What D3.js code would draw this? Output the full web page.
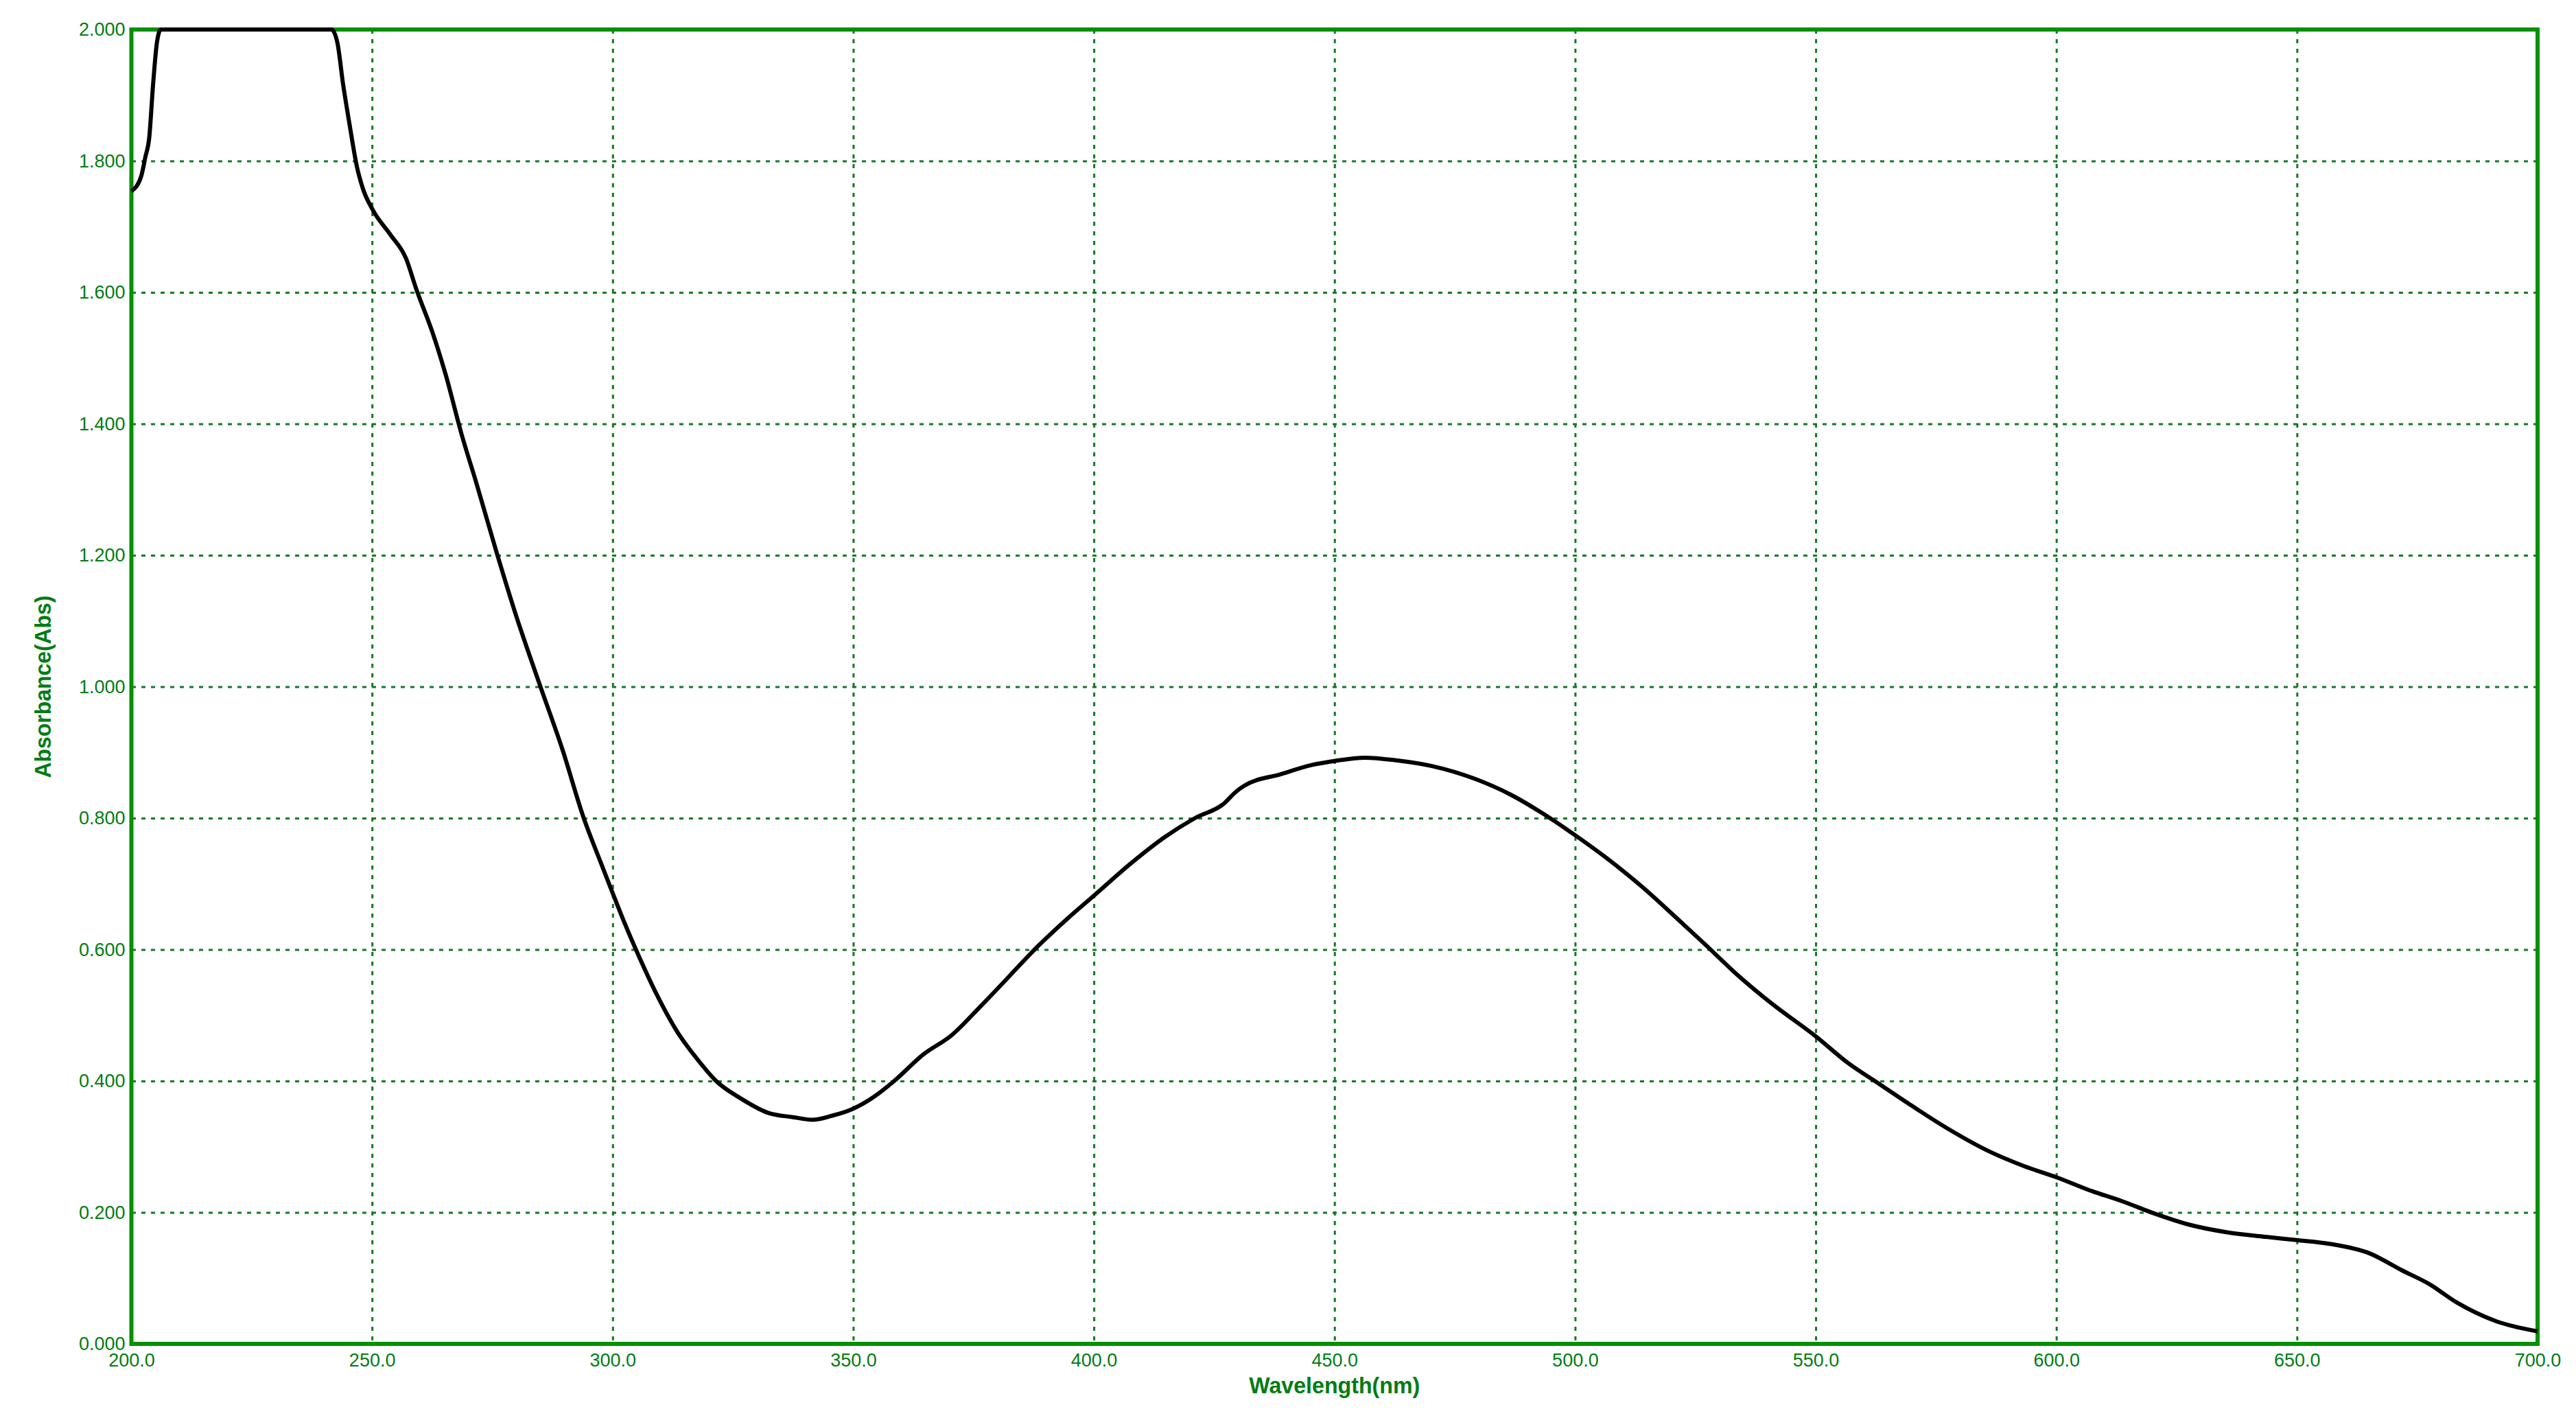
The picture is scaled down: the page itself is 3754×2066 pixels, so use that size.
<!DOCTYPE html>
<html>
<head>
<meta charset="utf-8">
<script src="https://cdnjs.cloudflare.com/ajax/libs/d3/7.8.5/d3.min.js"></script>
<style>
  html, body { margin: 0; padding: 0; background: #fff; }
  svg { display: block; }
</style>
</head>
<body>
<div id="chart"></div>
<script>
// wavelength (nm) and absorbance
var wavelength = [200, 202, 202.9, 203.7, 204.5, 205.3, 206.1, 241.6, 242.8, 244.0, 245.3, 246.9, 248.1, 250.2, 253.8, 257.1, 259.1, 262.8, 265.3, 268.5, 271.8, 275.9, 279.9, 285, 289.5, 294, 297.5, 300, 302.5, 305.5, 309, 313.5, 317.5, 321.5, 326.5, 332.5, 337.5, 341.5, 345.5, 349.7, 354.5, 358.5, 364.5, 370.5, 376.5, 382.5, 387, 394.5, 400, 408, 414.7, 421, 427, 429.5, 431.2, 438.9, 445.4, 450, 456.3, 462.8, 470.4, 479.1, 486.8, 493.3, 500, 506.4, 514, 520.5, 527, 533.5, 541, 550, 556.6, 563.5, 569.2, 577.1, 586.3, 593.1, 600.2, 606.8, 613.7, 620.5, 627.3, 635.3, 643.3, 649.9, 657, 665, 671.8, 677.5, 683.2, 691.2, 700];
var absorbance = [1.754, 1.776, 1.806, 1.835, 1.916, 1.98, 2.0, 2.0, 1.98, 1.916, 1.857, 1.79, 1.758, 1.725, 1.688, 1.651, 1.607, 1.534, 1.475, 1.387, 1.307, 1.204, 1.109, 1.0, 0.906, 0.8, 0.733, 0.686, 0.64, 0.589, 0.534, 0.474, 0.434, 0.4, 0.374, 0.351, 0.345, 0.341, 0.347, 0.357, 0.377, 0.4, 0.44, 0.47, 0.514, 0.56, 0.595, 0.647, 0.682, 0.733, 0.771, 0.8, 0.822, 0.84, 0.849, 0.867, 0.881, 0.887, 0.892, 0.888, 0.879, 0.86, 0.835, 0.807, 0.774, 0.74, 0.695, 0.652, 0.608, 0.563, 0.517, 0.468, 0.428, 0.394, 0.366, 0.329, 0.292, 0.271, 0.253, 0.234, 0.217, 0.198, 0.182, 0.17, 0.163, 0.158, 0.152, 0.138, 0.112, 0.091, 0.063, 0.035, 0.019];

var xTicks = [200, 250, 300, 350, 400, 450, 500, 550, 600, 650, 700];
var yTicks = [0, 0.2, 0.4, 0.6, 0.8, 1.0, 1.2, 1.4, 1.6, 1.8, 2.0];
var xTitle = "Wavelength(nm)";
var yTitle = "Absorbance(Abs)";

var W = 3754, H = 2066;
var margin = {top: 43, right: 56, bottom: 108, left: 191.5};
var width = W - margin.left - margin.right;
var height = H - margin.top - margin.bottom;

var green = "#009100";
var textGreen = "#007d12";
var gridGreen = "#137a22";

var svg = d3.select("#chart").append("svg")
    .attr("width", W)
    .attr("height", H)
    .style("background", "#fff");

var g = svg.append("g")
    .attr("transform", "translate(" + margin.left + "," + margin.top + ")");

var x = d3.scaleLinear().domain([200, 700]).range([0, width]);
var y = d3.scaleLinear().domain([0, 2]).range([height, 0]);

// dashed grid
g.append("g")
    .attr("class", "grid-x")
    .call(d3.axisBottom(x).tickValues(xTicks.slice(1, -1)).tickSize(height).tickFormat(""))
    .call(function(s) { s.select(".domain").remove(); })
    .selectAll("line")
    .attr("stroke", gridGreen)
    .attr("stroke-width", 3)
    .attr("stroke-dasharray", "6,8");

g.append("g")
    .attr("class", "grid-y")
    .attr("transform", "translate(" + width + ",0)")
    .call(d3.axisLeft(y).tickValues(yTicks.slice(1, -1)).tickSize(width).tickFormat(""))
    .call(function(s) { s.select(".domain").remove(); })
    .selectAll("line")
    .attr("stroke", gridGreen)
    .attr("stroke-width", 3)
    .attr("stroke-dasharray", "6,8");

// tick labels
var xAxis = g.append("g")
    .attr("transform", "translate(0," + height + ")")
    .call(d3.axisBottom(x).tickValues(xTicks).tickSize(0).tickPadding(14)
        .tickFormat(function(d) { return d3.format(".1f")(d); }));
xAxis.select(".domain").remove();
xAxis.selectAll("text")
    .attr("fill", textGreen)
    .style("font-family", "'Liberation Sans', Arial, sans-serif")
    .style("font-size", "27px");

var yAxis = g.append("g")
    .call(d3.axisLeft(y).tickValues(yTicks).tickSize(0).tickPadding(9)
        .tickFormat(function(d) { return d3.format(".3f")(d); }));
yAxis.select(".domain").remove();
yAxis.selectAll("text")
    .attr("fill", textGreen)
    .style("font-family", "'Liberation Sans', Arial, sans-serif")
    .style("font-size", "27px");

// frame
g.append("rect")
    .attr("x", 0)
    .attr("y", 0)
    .attr("width", width)
    .attr("height", height)
    .attr("fill", "none")
    .attr("stroke", green)
    .attr("stroke-width", 6);

// spectrum
var points = wavelength.map(function(d, i) { return [d, absorbance[i]]; });
var line = d3.line()
    .x(function(d) { return x(d[0]); })
    .y(function(d) { return y(d[1]); })
    .curve(d3.curveMonotoneX);

g.append("path")
    .datum(points)
    .attr("d", line)
    .attr("fill", "none")
    .attr("stroke", "#000")
    .attr("stroke-width", 6)
    .attr("stroke-linejoin", "round");

// axis titles
svg.append("text")
    .attr("x", margin.left + width / 2)
    .attr("y", 2030)
    .attr("text-anchor", "middle")
    .attr("fill", textGreen)
    .attr("textLength", 249)
    .attr("lengthAdjust", "spacingAndGlyphs")
    .style("font-family", "'Liberation Sans', Arial, sans-serif")
    .style("font-weight", "bold")
    .style("font-size", "34px")
    .text(xTitle);

svg.append("text")
    .attr("transform", "translate(74," + (margin.top + height / 2) + ") rotate(-90)")
    .attr("text-anchor", "middle")
    .attr("fill", textGreen)
    .attr("textLength", 266)
    .attr("lengthAdjust", "spacingAndGlyphs")
    .style("font-family", "'Liberation Sans', Arial, sans-serif")
    .style("font-weight", "bold")
    .style("font-size", "33px")
    .text(yTitle);
</script>
</body>
</html>
